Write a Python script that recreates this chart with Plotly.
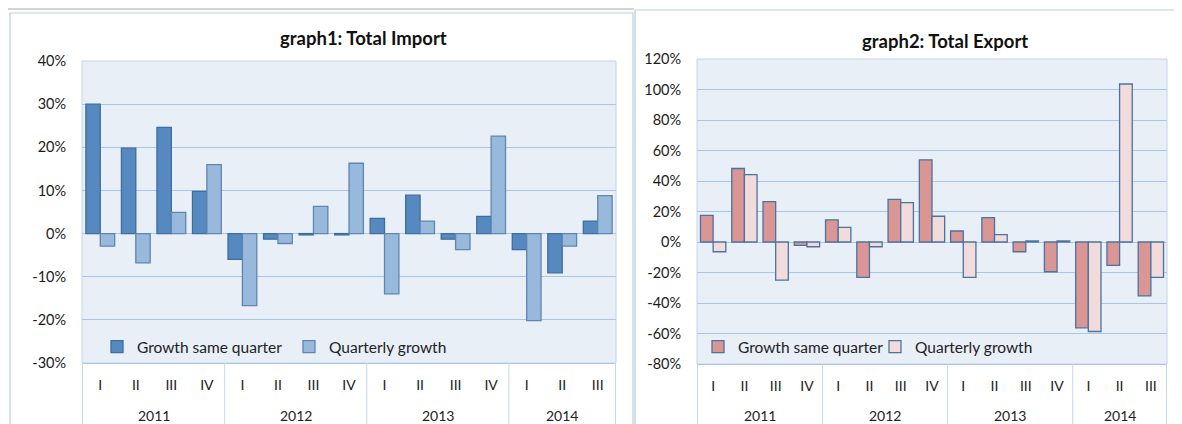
import plotly.graph_objects as go

years = ["2011"] * 4 + ["2012"] * 4 + ["2013"] * 4 + ["2014"] * 3
quarters = ["I", "II", "III", "IV"] * 3 + ["I", "II", "III"]

import_same_quarter = [30.0, 19.8, 24.6, 9.8, -6.0, -1.3, -0.3, -0.3, 3.5, 8.9, -1.3, 4.0, -3.7, -9.1, 2.9]
import_quarterly = [-2.9, -6.8, 4.9, 16.0, -16.7, -2.3, 6.3, 16.3, -14.0, 2.9, -3.7, 22.6, -20.2, -2.9, 8.8]

export_same_quarter = [17.5, 48.2, 26.5, -2.2, 14.5, -23.2, 28.0, 53.9, 7.2, 16.0, -6.4, -19.5, -56.3, -15.3, -35.3]
export_quarterly = [-6.4, 44.2, -25.0, -3.1, 9.6, -3.1, 25.8, 16.9, -23.2, 4.8, 0.7, 0.7, -58.7, 103.6, -23.2]

import_ticks = [-30, -20, -10, 0, 10, 20, 30, 40]
export_ticks = [-80, -60, -40, -20, 0, 20, 40, 60, 80, 100, 120]

# page body has an 8px margin; figure fills the rest of the 1182x424 window
OFF = 8
W, H = 1182 - OFF, 424 - OFF
FONT = "Lato, 'Open Sans', sans-serif"
GRID = "#A9C6E4"
PLOTBG = "#E9EFF7"
DIV = "#C8D8EA"
EDGE = "#C3D5EA"


def X(sx):
    return (sx - OFF) / W


def Y(sy):
    return 1 - (sy - OFF) / H


cats = [f"{y} {q}" for y, q in zip(years, quarters)]

fig = go.Figure()
fig.add_trace(go.Bar(x=cats, y=import_same_quarter, name="Growth same quarter",
                     marker=dict(color="#5689BF", line=dict(color="#3E6D9E", width=1.3)),
                     xaxis="x", yaxis="y", legend="legend"))
fig.add_trace(go.Bar(x=cats, y=import_quarterly, name="Quarterly growth",
                     marker=dict(color="#99B9DC", line=dict(color="#5E86B2", width=1.3)),
                     xaxis="x", yaxis="y", legend="legend"))
fig.add_trace(go.Bar(x=cats, y=export_same_quarter, name="Growth same quarter",
                     marker=dict(color="#D99694", line=dict(color="#4C72A0", width=1.3)),
                     xaxis="x2", yaxis="y2", legend="legend2"))
fig.add_trace(go.Bar(x=cats, y=export_quarterly, name="Quarterly growth",
                     marker=dict(color="#F2DCDB", line=dict(color="#4C72A0", width=1.3)),
                     xaxis="x2", yaxis="y2", legend="legend2"))

xa = dict(type="category", showgrid=False, showline=True, linecolor=GRID, linewidth=1,
          tickvals=cats, ticktext=quarters,
          ticks="outside", ticklen=9, tickcolor="rgba(0,0,0,0)",
          tickfont=dict(family=FONT, size=14, color="#222"), zeroline=False,
          fixedrange=True, automargin=False)
ya = dict(showgrid=True, gridcolor=GRID, gridwidth=1, zeroline=False,
          tickfont=dict(family=FONT, size=14.5, color="#1a1a1a"), showline=False,
          ticks="outside", ticklen=12, tickcolor="rgba(0,0,0,0)",
          fixedrange=True, automargin=False)

L_dom = [X(82), X(616)]
L_y = [Y(363), Y(61)]
R_dom = [X(697), X(1167)]
R_y = [Y(364), Y(59)]

shapes = [
    dict(type="line", xref="paper", yref="paper", x0=0, x1=X(634), y0=Y(9), y1=Y(9),
         line=dict(color="#D4D4D4", width=2)),
    dict(type="rect", xref="paper", yref="paper", x0=X(10), x1=X(633), y0=-0.1, y1=Y(13),
         line=dict(color="#B9CDE5", width=1.2)),
    dict(type="rect", xref="paper", yref="paper", x0=X(635), x1=1.1, y0=-0.1, y1=Y(10),
         line=dict(color="#B9CDE5", width=1.2)),
    dict(type="rect", xref="paper", yref="paper", x0=L_dom[0], x1=L_dom[1], y0=L_y[0], y1=L_y[1],
         line=dict(color=EDGE, width=1), layer="below"),
    dict(type="rect", xref="paper", yref="paper", x0=R_dom[0], x1=R_dom[1], y0=R_y[0], y1=R_y[1],
         line=dict(color=EDGE, width=1), layer="below"),
]

annotations = [
    dict(text="<b>graph1: Total Import</b>", x=X(363), y=Y(38), xref="paper", yref="paper",
         showarrow=False, font=dict(family=FONT, size=18.5, color="#111"),
         xanchor="center", yanchor="middle"),
    dict(text="<b>graph2: Total Export</b>", x=X(945), y=Y(41), xref="paper", yref="paper",
         showarrow=False, font=dict(family=FONT, size=18.5, color="#111"),
         xanchor="center", yanchor="middle"),
]

# year group labels and dividers on the category axes
groups = []
for i, yv in enumerate(years):
    if not groups or groups[-1][0] != yv:
        groups.append([yv, i, i])
    else:
        groups[-1][2] = i

for xr, yb, ylab in (("x", L_y[0], Y(415)), ("x2", R_y[0], Y(415))):
    for yv, i0, i1 in groups:
        annotations.append(dict(text=yv, x=(i0 + i1) / 2, xref=xr, y=ylab, yref="paper",
                                showarrow=False, xanchor="center", yanchor="middle",
                                font=dict(family=FONT, size=14, color="#222")))
    bounds = [g[1] - 0.5 for g in groups] + [groups[-1][2] + 0.5]
    for b in bounds:
        shapes.append(dict(type="line", xref=xr, yref="paper", x0=b, x1=b, y0=-0.1, y1=yb,
                           line=dict(color=DIV, width=1)))

fig.update_layout(
    width=W, height=H, margin=dict(l=0, r=0, t=0, b=0, autoexpand=False),
    paper_bgcolor="white", plot_bgcolor=PLOTBG,
    barmode="group", bargap=0.19, bargroupgap=0,
    showlegend=True,
    xaxis=dict(xa, domain=L_dom, anchor="y"),
    yaxis=dict(ya, domain=L_y, range=[-30, 40], tickvals=import_ticks,
               ticktext=[f"{v}%" for v in import_ticks], anchor="x"),
    xaxis2=dict(xa, domain=R_dom, anchor="y2"),
    yaxis2=dict(ya, domain=R_y, range=[-80, 120], tickvals=export_ticks,
                ticktext=[f"{v}%" for v in export_ticks], anchor="x2"),
    legend=dict(orientation="h", x=X(97), y=Y(347), xanchor="left", yanchor="middle",
                bgcolor="rgba(0,0,0,0)", font=dict(family=FONT, size=15.5, color="#222"),
                entrywidth=147, entrywidthmode="pixels", traceorder="normal"),
    legend2=dict(orientation="h", x=X(698), y=Y(347), xanchor="left", yanchor="middle",
                 bgcolor="rgba(0,0,0,0)", font=dict(family=FONT, size=15.5, color="#222"),
                 entrywidth=132, entrywidthmode="pixels", traceorder="normal"),
    annotations=annotations,
    shapes=shapes,
)

fig.write_html("out.html")
